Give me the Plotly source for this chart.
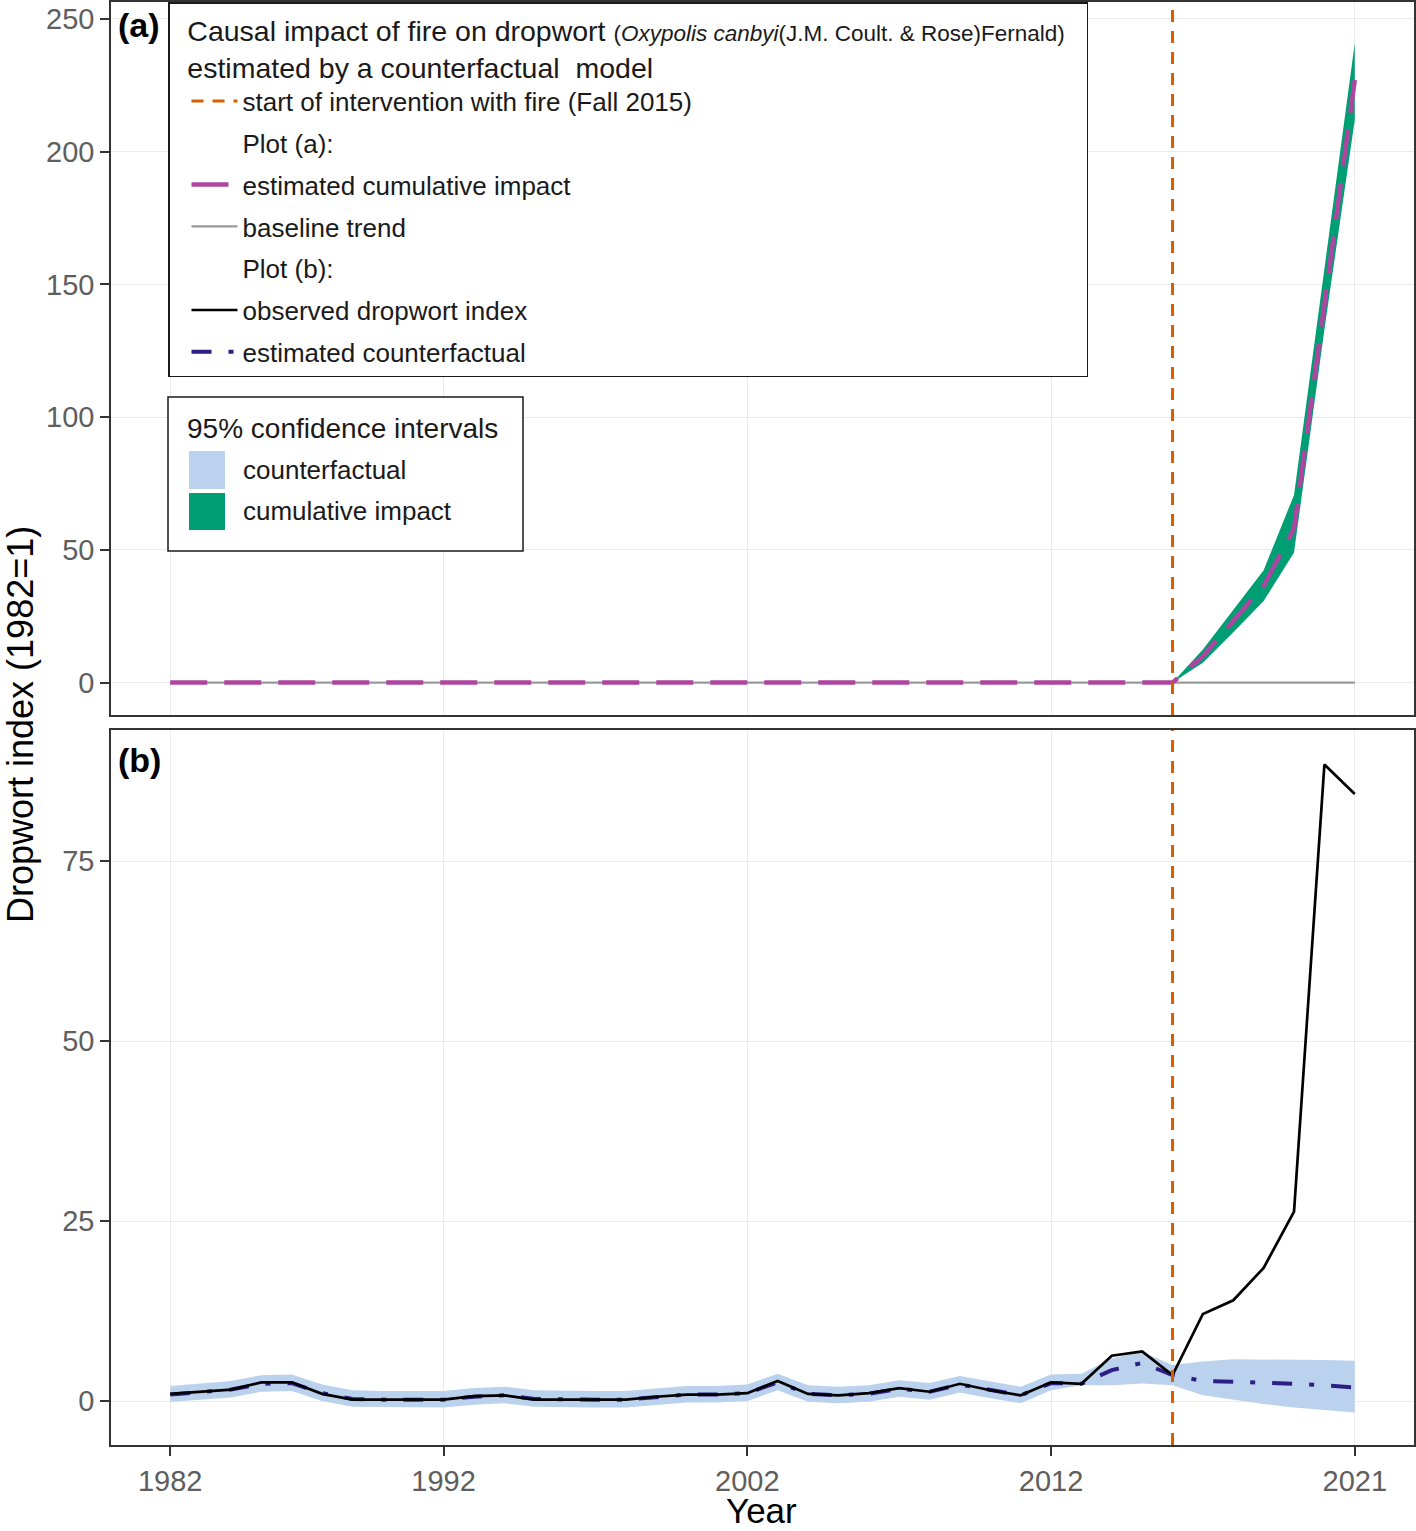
import plotly.graph_objects as go

# ---------------- data ----------------
years = list(range(1982, 2022))

observed = [1.0, 1.3, 1.6, 2.6, 2.6, 1.0, 0.2, 0.2, 0.2, 0.2,
            0.7, 0.8, 0.2, 0.2, 0.2, 0.2, 0.6, 0.9, 0.9, 1.1,
            2.8, 1.0, 0.8, 1.1, 1.8, 1.3, 2.4, 1.5, 0.8, 2.6,
            2.4, 6.3, 6.9, 3.6, 12.1, 14.0, 18.5, 26.3, 88.4, 84.3]

counterfactual = [0.9, 1.3, 1.6, 2.4, 2.5, 1.1, 0.3, 0.2, 0.2, 0.2,
                  0.6, 0.8, 0.3, 0.2, 0.2, 0.2, 0.5, 0.9, 0.9, 1.1,
                  2.6, 1.0, 0.8, 1.0, 1.7, 1.3, 2.3, 1.5, 0.8, 2.5,
                  2.4, 4.3, 5.3, 3.6, 2.8, 2.7, 2.6, 2.4, 2.2, 1.9]

cf_lower = [-0.1, 0.2, 0.5, 1.3, 1.4, 0.0, -0.8, -0.9, -0.9, -0.9,
            -0.5, -0.3, -0.8, -0.9, -0.9, -0.9, -0.6, -0.2, -0.2, 0.0,
            1.5, -0.1, -0.3, -0.1, 0.6, 0.2, 1.2, 0.4, -0.3, 1.5,
            2.2, 2.2, 2.45, 2.2, 0.8, 0.15, -0.4, -0.9, -1.25, -1.6]

cf_upper = [2.1, 2.5, 2.8, 3.6, 3.7, 2.3, 1.5, 1.4, 1.4, 1.4,
            1.8, 2.0, 1.5, 1.4, 1.4, 1.4, 1.7, 2.1, 2.1, 2.3,
            3.8, 2.2, 2.0, 2.2, 2.9, 2.5, 3.5, 2.7, 2.0, 3.7,
            3.8, 5.9, 6.85, 5.0, 5.5, 5.8, 5.8, 5.8, 5.7, 5.6]

cum_years = [1982, 2015, 2016, 2017, 2018, 2019, 2020, 2021]
cum_impact = [0.0, 0.0, 10.0, 23.0, 36.5, 58.0, 144.0, 227.0]
cum_lower = [0.0, 0.0, 7.5, 19.0, 30.7, 49.0, 133.0, 212.0]
cum_upper = [0.0, 0.0, 12.5, 27.3, 42.3, 70.7, 156.0, 241.0]

baseline_years = [1982, 2021]
baseline_values = [0.0, 0.0]

intervention_year = 2015

x_tickvals = [1982, 1991, 2001, 2011, 2021]
x_ticktext = ["1982", "1992", "2002", "2012", "2021"]
ya_ticks = [0, 50, 100, 150, 200, 250]
yb_ticks = [0, 25, 50, 75]

x_range = [1980.05, 2022.95]
ya_range = [-12.2, 256.4]
yb_range = [-6.1, 93.2]

# ---------------- style ----------------
FONT = "Liberation Sans, Arial, sans-serif"
C_ORANGE = "#D55E00"
C_PINK = "#AE45A0"
C_GREEN = "#009E73"
C_BLUE = "#BAD2EE"
C_INDIGO = "#2E1F84"
C_GRAY = "#9A9A9A"
NB = "\u00a0"

W, H = 1416, 1531
ML, MR, MT, MB = 111, 2, 2, 86
PW = W - ML - MR
PH = H - MT - MB


def px_x(px):
    return (px - ML) / PW


def px_y(py):
    return (H - MB - py) / PH


fig = go.Figure()

# ----- panel (a) -----
fig.add_trace(go.Scatter(
    x=cum_years + cum_years[::-1], y=cum_upper + cum_lower[::-1],
    fill="toself", fillcolor=C_GREEN, line=dict(width=0), mode="lines",
    showlegend=False, hoverinfo="skip", xaxis="x", yaxis="y"))

fig.add_trace(go.Scatter(
    x=baseline_years, y=baseline_values, mode="lines",
    line=dict(color=C_GRAY, width=2.2), name="baseline trend",
    legendrank=4, legendgroup="g4", xaxis="x", yaxis="y"))

fig.add_trace(go.Scatter(
    x=cum_years, y=cum_impact, mode="lines",
    line=dict(color=C_PINK, width=4.5, dash="37px,17px"),
    name="estimated cumulative impact", legendrank=3, legendgroup="g3",
    xaxis="x", yaxis="y"))

fig.add_trace(go.Scatter(
    x=[intervention_year, intervention_year], y=ya_range, mode="lines",
    line=dict(color=C_ORANGE, width=3, dash="12px,9px"),
    name="start of intervention with fire (Fall 2015)", legendrank=1,
    legendgroup="g1", xaxis="x", yaxis="y"))

# header rows in legend
fig.add_trace(go.Scatter(x=[None], y=[None], mode="lines",
                         line=dict(color="rgba(0,0,0,0)"), name="Plot (a):",
                         legendrank=2, legendgroup="g2", xaxis="x", yaxis="y"))
fig.add_trace(go.Scatter(x=[None], y=[None], mode="lines",
                         line=dict(color="rgba(0,0,0,0)"), name="Plot (b):",
                         legendrank=5, legendgroup="g5", xaxis="x", yaxis="y"))

# ----- panel (b) -----
fig.add_trace(go.Scatter(
    x=years + years[::-1], y=cf_upper + cf_lower[::-1],
    fill="toself", fillcolor=C_BLUE, line=dict(width=0), mode="lines",
    showlegend=False, hoverinfo="skip", xaxis="x2", yaxis="y2"))

fig.add_trace(go.Scatter(
    x=years, y=counterfactual, mode="lines",
    line=dict(color=C_INDIGO, width=4, dash="20px,17px,5px,17px"),
    name="estimated counterfactual", legendrank=7, legendgroup="g7",
    xaxis="x2", yaxis="y2"))

fig.add_trace(go.Scatter(
    x=years, y=observed, mode="lines",
    line=dict(color="black", width=2.7),
    name="observed dropwort index", legendrank=6, legendgroup="g6",
    xaxis="x2", yaxis="y2"))

fig.add_trace(go.Scatter(
    x=[intervention_year, intervention_year], y=yb_range, mode="lines",
    line=dict(color=C_ORANGE, width=3, dash="12px,9px"),
    showlegend=False, legendgroup="g1", xaxis="x2", yaxis="y2"))

axis_common = dict(
    showgrid=True, gridcolor="#EBEBEB", gridwidth=1,
    showline=True, mirror=True, linecolor="#333333", linewidth=1.5,
    zeroline=False, ticks="outside", ticklen=9, tickwidth=1.5,
    tickcolor="#333333", tickfont=dict(family=FONT, size=29, color="#5E5E5E"),
    automargin=False,
)

top_domain = [px_y(715), 1.0]
bot_domain = [0.0, px_y(730)]

legend_title = (NB * 2 + "Causal impact of fire on dropwort "
                "<span style='font-size:22.5px'>(<i>Oxypolis canbyi</i>"
                "(J.M. Coult. &amp; Rose)Fernald)" + NB * 3 + "</span><br>"
                + NB * 2 + "estimated by a counterfactual  model")

fig.update_layout(
    width=W, height=H,
    margin=dict(l=ML, r=MR, t=MT, b=MB, autoexpand=False),
    paper_bgcolor="white", plot_bgcolor="white",
    font=dict(family=FONT, color="#1A1A1A"),
    xaxis=dict(axis_common, domain=[0, 1], range=x_range, tickvals=x_tickvals,
               ticktext=x_ticktext, showticklabels=False, ticks="",
               anchor="y"),
    yaxis=dict(axis_common, domain=top_domain, range=ya_range,
               tickvals=ya_ticks, anchor="x"),
    xaxis2=dict(axis_common, domain=[0, 1], range=x_range, tickvals=x_tickvals,
                ticktext=x_ticktext, anchor="y2", matches="x"),
    yaxis2=dict(axis_common, domain=bot_domain, range=yb_range,
                tickvals=yb_ticks, anchor="x2"),
    legend=dict(
        x=px_x(168), y=1.0, xanchor="left", yanchor="top",
        bgcolor="white", bordercolor="#1A1A1A", borderwidth=1.5,
        font=dict(family=FONT, size=26, color="#1A1A1A"),
        title=dict(text=legend_title,
                   font=dict(family=FONT, size=28.5, color="#1A1A1A"),
                   side="top"),
        traceorder="grouped", indentation=17, itemwidth=46,
        tracegroupgap=5,
    ),
    showlegend=True,
)

# ----- legend for confidence intervals (drawn manually) -----
shapes = [
    dict(type="rect", xref="paper", yref="paper",
         x0=px_x(168), x1=px_x(523), y0=px_y(551), y1=px_y(397),
         fillcolor="white", line=dict(color="#1A1A1A", width=1.5), layer="above"),
    dict(type="rect", xref="paper", yref="paper",
         x0=px_x(189), x1=px_x(225), y0=px_y(489), y1=px_y(451),
         fillcolor=C_BLUE, line=dict(width=0), layer="above"),
    dict(type="rect", xref="paper", yref="paper",
         x0=px_x(189), x1=px_x(225), y0=px_y(530), y1=px_y(493),
         fillcolor=C_GREEN, line=dict(width=0), layer="above"),
]
fig.update_layout(shapes=shapes)

ann = [
    dict(text="95% confidence intervals", x=px_x(185), y=px_y(428),
         xanchor="left", yanchor="middle", font=dict(size=28)),
    dict(text="counterfactual", x=px_x(241), y=px_y(470),
         xanchor="left", yanchor="middle", font=dict(size=26)),
    dict(text="cumulative impact", x=px_x(241), y=px_y(511),
         xanchor="left", yanchor="middle", font=dict(size=26)),
    dict(text="<b>(a)</b>", x=px_x(116), y=px_y(25),
         xanchor="left", yanchor="middle", font=dict(size=34, color="black")),
    dict(text="<b>(b)</b>", x=px_x(116), y=px_y(760),
         xanchor="left", yanchor="middle", font=dict(size=34, color="black")),
    dict(text="Dropwort index (1982=1)", x=px_x(20), y=px_y(725),
         xanchor="center", yanchor="middle", textangle=-90,
         font=dict(size=36, color="black")),
    dict(text="Year", x=px_x(761), y=px_y(1510),
         xanchor="center", yanchor="middle", font=dict(size=35, color="black")),
]
for a in ann:
    a.update(xref="paper", yref="paper", showarrow=False)
    a["font"].setdefault("family", FONT)
    a["font"].setdefault("color", "#1A1A1A")
fig.update_layout(annotations=ann)

fig.write_html("out.html",
               config={"displayModeBar": False},
               post_script="document.body.style.margin='0';"
                           "document.body.style.overflow='hidden';")
